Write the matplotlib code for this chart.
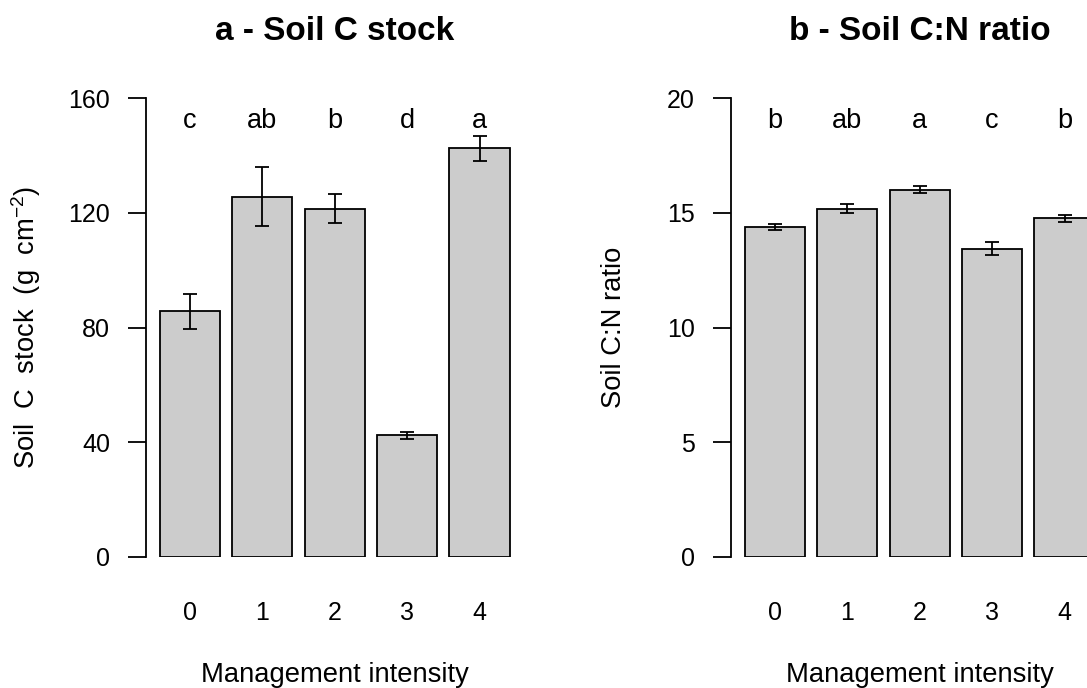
import numpy as np
import matplotlib.pyplot as plt

plt.rcParams['font.family'] = ['Liberation Sans', 'DejaVu Sans']
plt.rcParams['mathtext.fontset'] = 'custom'
plt.rcParams['mathtext.rm'] = 'Liberation Sans'
plt.rcParams['mathtext.it'] = 'Liberation Sans'

# management intensity classes
intensity = ["0", "1", "2", "3", "4"]

# soil C stock (g cm-2), mean and standard error
c_stock = [85.7, 125.7, 121.5, 42.4, 142.6]
c_stock_se = [6.0, 10.2, 5.0, 1.2, 4.3]
c_stock_letters = ["c", "ab", "b", "d", "a"]

# soil C:N ratio, mean and standard error
cn_ratio = [14.39, 15.19, 16.02, 13.44, 14.76]
cn_ratio_se = [0.15, 0.18, 0.14, 0.28, 0.14]
cn_ratio_letters = ["b", "ab", "a", "c", "b"]

W, H = 1087, 688
fig = plt.figure(figsize=(W / 100, H / 100), dpi=100)

# barplot-like positions: width 1, space 0.2
xpos = 0.2 + np.arange(len(intensity)) * 1.2 + 0.5
xlim = (-0.032, 6.232)

def panel(left_px, title, vals, errs, letters, ymax, yticks, ylabel, ylabel_x):
    ax = fig.add_axes([left_px / W, (H - 557) / H, 378 / W, (557 - 98.3) / H])
    ax.bar(xpos, vals, width=1.0, color="#CCCCCC", edgecolor="black", linewidth=1.3, zorder=2)
    ax.errorbar(xpos, vals, yerr=errs, fmt="none", ecolor="black", elinewidth=1.3,
                capsize=5, capthick=1.3, zorder=3)
    for x, lab in zip(xpos, letters):
        ax.text(x, 0.95 * ymax, lab, ha="center", va="center", fontsize=19.5)
    ax.set_xlim(*xlim)
    ax.set_ylim(0, ymax)
    for s in ["top", "right", "bottom"]:
        ax.spines[s].set_visible(False)
    ax.spines["left"].set_linewidth(1.3)
    ax.set_yticks(yticks)
    ax.tick_params(axis="y", length=12.7, width=1.3, pad=13, labelsize=18)
    ax.set_xticks(xpos, intensity)
    ax.tick_params(axis="x", length=0, pad=40, labelsize=18)
    for t in ax.get_xticklabels():
        t.set_va("center")
    ax.set_xlabel("Management intensity", fontsize=19.7, va="center")
    ax.xaxis.set_label_coords(0.5, (557 - 675) / 458.7)
    ax.text((ylabel_x - left_px) / 378, 0.5, ylabel, rotation=90, ha="center", va="center",
            fontsize=19.7, transform=ax.transAxes)
    ax.set_title(title, fontsize=24, fontweight="bold", pad=0,
                 y=(557 - 32) / 458.7, va="center")
    return ax

panel(145.7, "a - Soil C stock", c_stock, c_stock_se, c_stock_letters, 160,
      [0, 40, 80, 120, 160], r"Soil  C  stock  (g  cm$^{-2}$)", 26.5)
panel(730.7, "b - Soil C:N ratio", cn_ratio, cn_ratio_se, cn_ratio_letters, 20,
      [0, 5, 10, 15, 20], "Soil C:N ratio", 614)

fig.savefig("out.png", dpi=100)
